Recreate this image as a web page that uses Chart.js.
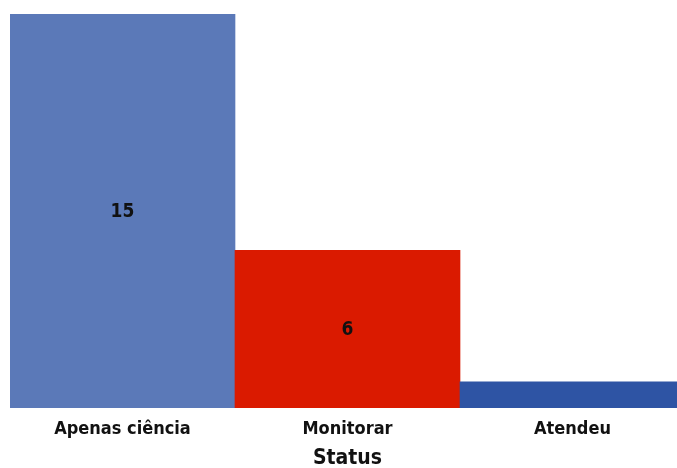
<!DOCTYPE html>
<html><head><meta charset="utf-8">
<script src="https://cdn.jsdelivr.net/npm/chart.js@4.4.0/dist/chart.umd.min.js"></script>
<style>
html,body{margin:0;padding:0;overflow:hidden;background:#fff;width:677px;height:468px;}
#wrap{position:absolute;left:0;top:0;width:695px;height:468px;}
</style></head>
<body>
<div id="wrap"><canvas id="c" width="695" height="468"></canvas></div>
<script>
const categories = ["Apenas ciência", "Monitorar", "Atendeu"];
const values = [15, 6, 1];
const barColors = ["#5B79B8", "#DA1A00", "#2E54A4"];
const axisTitle = "Status";
const FONT = "'DejaVu Sans Condensed', 'Liberation Sans', sans-serif";

const valueLabels = {
  id: 'valueLabels',
  afterDatasetsDraw(chart) {
    const ctx = chart.ctx;
    const meta = chart.getDatasetMeta(0);
    ctx.save();
    ctx.font = "bold 19px " + FONT;
    ctx.fillStyle = "#111";
    ctx.textAlign = "center";
    ctx.textBaseline = "middle";
    meta.data.forEach((bar, i) => {
      if (values[i] < 2) return;
      const p = bar.getProps(['x','y','base'], true);
      ctx.fillText(String(values[i]), p.x, (p.y + p.base) / 2 + 1);
    });
    ctx.restore();
  }
};

new Chart(document.getElementById('c'), {
  type: 'bar',
  data: {
    labels: categories,
    datasets: [{
      data: values,
      backgroundColor: barColors,
      borderWidth: 0,
      barPercentage: 1,
      categoryPercentage: 1
    }]
  },
  options: {
    responsive: false,
    animation: false,
    devicePixelRatio: 1,
    layout: { padding: { left: 10, right: 10, top: 14, bottom: 0 } },
    plugins: { legend: { display: false }, tooltip: { enabled: false } },
    scales: {
      x: {
        grid: { display: false, drawTicks: false },
        border: { display: false },
        ticks: { color: "#111", font: { family: FONT, size: 18, weight: 'bold' }, padding: 11, maxRotation: 0 },
        title: { display: true, text: axisTitle, color: "#111", font: { family: FONT, size: 21, weight: 'bold' }, padding: { top: 4, bottom: -3 } },
        afterFit(scale) { scale.height = 60; }
      },
      y: {
        display: false,
        min: 0, max: 15
      }
    }
  },
  plugins: [valueLabels]
});
</script>
</body></html>
